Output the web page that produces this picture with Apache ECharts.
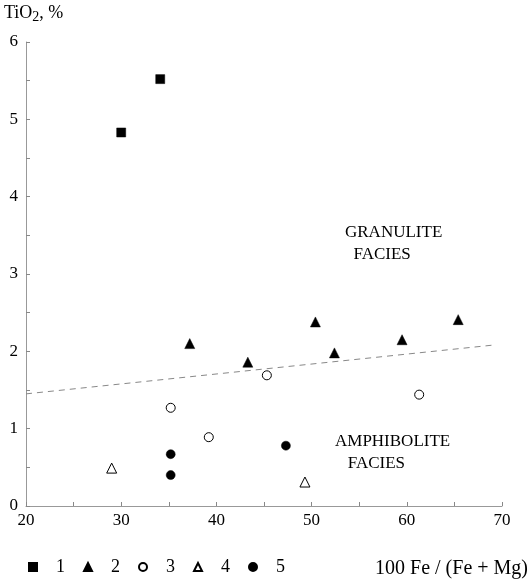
<!DOCTYPE html>
<html>
<head>
<meta charset="utf-8">
<script src="https://cdn.jsdelivr.net/npm/echarts@6/dist/echarts.min.js"></script>
<style>
  html, body { margin: 0; padding: 0; background: #fff; }
  #main { width: 531px; height: 585px; }
</style>
</head>
<body>
<div id="main"></div>
<script>
// data: [100Fe/(Fe+Mg), TiO2 %]
var group1 = [[30.0, 4.83], [34.1, 5.52]];
var group2 = [[37.2, 2.10], [43.3, 1.86], [50.4, 2.38], [52.4, 1.98], [59.5, 2.15], [65.4, 2.41]];
var group3 = [[35.2, 1.27], [39.2, 0.89], [45.3, 1.69], [61.3, 1.44]];
var group4 = [[29.0, 0.49], [49.3, 0.31]];
var group5 = [[35.2, 0.67], [35.2, 0.40], [47.3, 0.78]];
var boundary = [[20, 1.45], [69, 2.08]];

var xTicks = [20, 30, 40, 50, 60, 70];
var yTicks = [0, 1, 2, 3, 4, 5, 6];

var serif = '"Liberation Serif", "DejaVu Serif", serif';
var chart = echarts.init(document.getElementById('main'));

function pts(name, data, symbol, size, filled) {
  return {
    name: name,
    type: 'scatter',
    data: data,
    symbol: symbol,
    symbolSize: size,
    itemStyle: {
      color: filled ? '#000' : '#fff',
      borderColor: '#000',
      borderWidth: filled ? 0.5 : 1,
      opacity: 1
    },
    z: 5
  };
}

chart.setOption({
  animation: false,
  backgroundColor: '#fff',
  grid: { left: 26, right: 29, top: 42, bottom: 79 },
  xAxis: {
    type: 'value',
    min: xTicks[0],
    max: xTicks[xTicks.length - 1],
    interval: 10,
    axisLine: { lineStyle: { color: '#999', width: 1 } },
    axisTick: { inside: true, length: 4, lineStyle: { color: '#888' } },
    minorTick: { show: true, splitNumber: 2, length: 4, lineStyle: { color: '#888' } },
    splitLine: { show: false },
    axisLabel: { color: '#000', fontFamily: serif, fontSize: 17, margin: 6 }
  },
  yAxis: {
    type: 'value',
    min: yTicks[0],
    max: yTicks[yTicks.length - 1],
    interval: 1,
    axisLine: { show: true, lineStyle: { color: '#999', width: 1 } },
    axisTick: { show: true, inside: true, length: 4, lineStyle: { color: '#888' } },
    minorTick: { show: true, splitNumber: 2, length: 4, lineStyle: { color: '#888' } },
    splitLine: { show: false },
    axisLabel: { color: '#000', fontFamily: serif, fontSize: 17, margin: 8 }
  },
  legend: {
    left: 23,
    top: 553,
    itemWidth: 8,
    itemHeight: 8,
    itemGap: 18,
    textStyle: { color: '#000', fontFamily: serif, fontSize: 18, padding: [0, 0, 0, 14] },
    data: ['1', '2', '3', '4', '5']
  },
  graphic: [
    {
      type: 'text', left: 4, top: 4,
      style: {
        text: '{a|TiO}{s|2}{a|, %}',
        fill: '#000',
        rich: {
          a: { fontFamily: serif, fontSize: 18, fill: '#000' },
          s: { fontFamily: serif, fontSize: 14, fill: '#000', padding: [8, 0, 0, 0] }
        }
      }
    },
    {
      type: 'text', left: 345, top: 222,
      style: { text: 'GRANULITE\n  FACIES', fill: '#000', fontFamily: serif, fontSize: 17, lineHeight: 22 }
    },
    {
      type: 'text', left: 335, top: 431,
      style: { text: 'AMPHIBOLITE\n   FACIES', fill: '#000', fontFamily: serif, fontSize: 17, lineHeight: 22 }
    },
    {
      type: 'text', right: 3, top: 559,
      style: { text: '100 Fe / (Fe + Mg)', fill: '#000', fontFamily: serif, fontSize: 20 }
    }
  ],
  series: [
    {
      name: 'boundary',
      type: 'line',
      data: boundary,
      symbol: 'none',
      lineStyle: { color: '#888', width: 1, type: [6, 5] },
      z: 2
    },
    pts('1', group1, 'rect', 9, true),
    pts('2', group2, 'triangle', 10, true),
    pts('3', group3, 'circle', 9, false),
    pts('4', group4, 'triangle', 10, false),
    pts('5', group5, 'circle', 9, true)
  ]
});
</script>
</body>
</html>
